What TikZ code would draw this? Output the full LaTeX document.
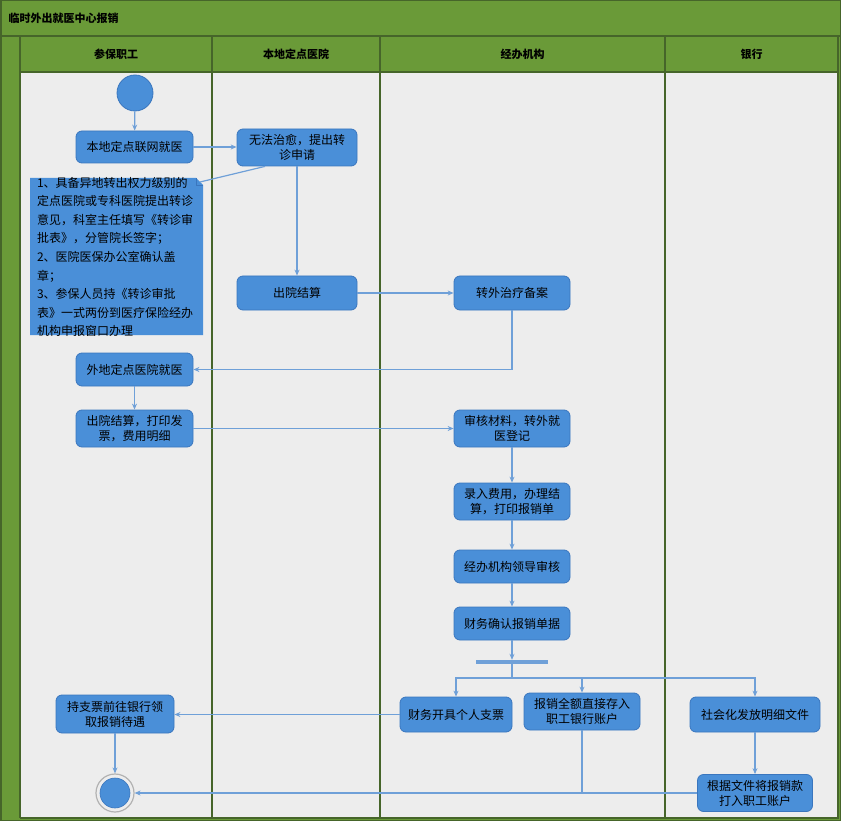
\documentclass[tikz,border=0pt]{standalone}
\usepackage{fontspec}
\setmainfont{Noto Sans CJK SC}
\usetikzlibrary{arrows.meta,calc}
\definecolor{grn}{HTML}{6A9A38}
\definecolor{grnd}{HTML}{46652A}
\definecolor{bx}{HTML}{4A8FD8}
\definecolor{bxd}{HTML}{3A76BE}
\definecolor{ln}{HTML}{6FA0D8}
\definecolor{bgc}{HTML}{EDEDED}
\begin{document}
\begin{tikzpicture}[x=1pt,y=-1pt,
  box/.style={draw=bxd, fill=bx, rounded corners=6pt, align=center,
    font=\fontsize{12}{15}\selectfont, inner sep=2pt, line width=0.8pt},
  arr/.style={draw=ln, line width=1.2pt, -{Stealth[length=6pt,width=5pt]}},
  lin/.style={draw=ln, line width=1.2pt},
  hdr/.style={font=\bfseries\fontsize{11}{13}\selectfont}]
\useasboundingbox (0,0) rectangle (841,821);
% frame
\fill[grn] (0,0) rectangle (841,821);
\fill[bgc] (20,72) rectangle (838,818);
\draw[grnd, line width=1.2pt] (0,36) -- (841,36);
\draw[grnd, line width=1.2pt] (20,72) -- (838,72);
\draw[grnd, line width=1.5pt] (20,36) -- (20,818);
\foreach \xx in {212,380,665} \draw[grnd, line width=1.5pt] (\xx,36) -- (\xx,818);
\draw[grnd, line width=1.2pt] (838,36) -- (838,818) -- (20,818);
\draw[grnd, line width=1.5pt] (0.75,0.75) rectangle (840.25,820.25);
% title and headers
\node[hdr, anchor=west] (title) at (5,18) {临时外出就医中心报销};
\node[hdr] (h-emp) at (116,54) {参保职工};
\node[hdr] (h-hos) at (296,54) {本地定点医院};
\node[hdr] (h-age) at (522.5,54) {经办机构};
\node[hdr] (h-bnk) at (751.5,54) {银行};
% start / end
\node[circle, fill=bx, draw=bxd, line width=0.8pt, minimum size=36pt, inner sep=0pt] (start) at (135,93) {};
\node[circle, draw=gray!60, fill=bgc, line width=1.2pt, minimum size=38pt, inner sep=0pt] (endo) at (115,793) {};
\node[circle, fill=bx, draw=bxd, line width=0.6pt, minimum size=30pt, inner sep=0pt] (end) at (115,793) {};
% boxes
\node[box, minimum width=117pt, minimum height=32pt] (l1) at (134.5,147) {本地定点联网就医};
\node[box, minimum width=120pt, minimum height=37pt] (h1) at (297,147.5) {无法治愈，提出转\\诊申请};
\node[box, minimum width=120pt, minimum height=34pt] (h2) at (297,293) {出院结算};
\node[box, minimum width=116pt, minimum height=34pt] (j1) at (512,293) {转外治疗备案};
\node[box, minimum width=117pt, minimum height=33pt] (l2) at (134.5,369.5) {外地定点医院就医};
\node[box, minimum width=117pt, minimum height=37pt] (l3) at (134.5,428.5) {出院结算，打印发\\票，费用明细};
\node[box, minimum width=116pt, minimum height=37pt] (j2) at (512,428.5) {审核材料，转外就\\医登记};
\node[box, minimum width=116pt, minimum height=37pt] (j3) at (512,501.5) {录入费用，办理结\\算，打印报销单};
\node[box, minimum width=116pt, minimum height=33pt] (j4) at (512,566.5) {经办机构领导审核};
\node[box, minimum width=116pt, minimum height=33pt] (j5) at (512,623.5) {财务确认报销单据};
\node[fill=ln, minimum width=72pt, minimum height=4pt, inner sep=0pt] (bar) at (512,662) {};
\node[box, minimum width=112pt, minimum height=35pt] (j6) at (456,714.5) {财务开具个人支票};
\node[box, minimum width=116pt, minimum height=37pt] (j7) at (582,711.5) {报销全额直接存入\\职工银行账户};
\node[box, minimum width=130pt, minimum height=35pt] (b1) at (755,714.5) {社会化发放明细文件};
\node[box, minimum width=115pt, minimum height=37pt] (b2) at (755,793) {根据文件将报销款\\打入职工账户};
\node[box, minimum width=118pt, minimum height=38pt] (l4) at (115,714) {持支票前往银行领\\取报销待遇};
% note
\fill[bx] (30,178) -- (196,178) -- (203,185) -- (203,335) -- (30,335) -- cycle;
\draw[bxd, line width=0.6pt] (196,178) -- (196,185) -- (203,185);
\node[align=left, text width=166pt, inner sep=0pt, font=\fontsize{12}{18.6}\selectfont] (note) at (120,257)
{1、具备异地转出权力级别的\\定点医院或专科医院提出转诊\\意见，科室主任填写《转诊审\\批表》，分管院长签字；\\2、医院医保办公室确认盖\\章；\\3、参保人员持《转诊审批\\表》一式两份到医疗保险经办\\机构申报窗口办理};
\coordinate (notec) at (200,182);
\draw[lin] (notec) -- ([xshift=-32pt]h1.south);
% connectors
\draw[arr] (start) -- (l1);
\draw[arr] (l1) -- (h1.west |- l1);
\draw[arr] (h1) -- (h2);
\draw[arr] (h2) -- (j1);
\draw[arr] (j1.south) |- (l2.east);
\draw[arr] (l2) -- (l3);
\draw[arr] (l3) -- (j2);
\draw[arr] (j2) -- (j3);
\draw[arr] (j3) -- (j4);
\draw[arr] (j4) -- (j5);
\draw[arr] (j5) -- (bar);
\coordinate (fk) at (512,678);
\draw[lin] (bar.south) -- (fk);
\draw[arr] (fk) -| (j6.north);
\draw[arr] (fk) -| (j7.north);
\draw[arr] (fk) -| (b1.north);
\draw[arr] (j6) -- (l4.east |- j6);
\draw[arr] (l4) -- (endo);
\draw[arr] (b1) -- (b2);
\draw[arr] (b2) -- (endo);
\coordinate (jm) at (j7.south |- end);
\draw[lin] (j7.south) -- (jm);
\end{tikzpicture}
\end{document}
